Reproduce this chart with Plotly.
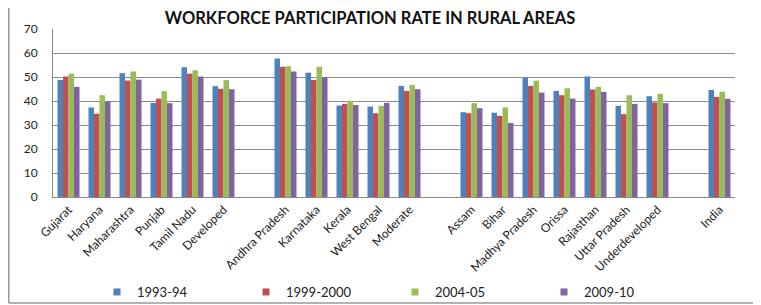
import plotly.graph_objects as go

categories = ["Gujarat", "Haryana", "Maharashtra", "Punjab", "Tamil Nadu", "Developed", " ",
              "Andhra Pradesh", "Karnataka", "Kerala", "West Bengal", "Moderate", "  ",
              "Assam", "Bihar", "Madhya Pradesh", "Orissa", "Rajasthan", "Uttar Pradesh",
              "Underdeveloped", "   ", "India"]

y1993 = [48.8, 37.3, 51.6, 39.2, 54.1, 46.2, None, 57.7, 51.8, 38.1, 37.7, 46.3, None,
         35.3, 35.1, 49.6, 44.2, 50.2, 38.0, 42.0, None, 44.6]
y1999 = [50.2, 34.7, 48.5, 41.0, 51.4, 45.1, None, 54.3, 48.8, 38.8, 34.9, 44.2, None,
         34.9, 33.8, 46.3, 42.4, 44.8, 34.5, 39.4, None, 41.7]
y2004 = [51.4, 42.4, 52.3, 44.1, 52.8, 48.7, None, 54.5, 54.3, 40.1, 38.0, 46.7, None,
         39.1, 37.3, 48.5, 45.3, 45.9, 42.4, 43.0, None, 43.9]
y2009 = [45.9, 39.8, 48.9, 39.1, 50.2, 44.9, None, 52.3, 49.9, 38.3, 39.2, 44.9, None,
         37.0, 30.8, 43.5, 41.0, 43.8, 38.8, 39.1, None, 40.9]

series = [("1993-94", y1993, "#4F81BD"), ("1999-2000", y1999, "#C0504D"),
          ("2004-05", y2004, "#9BBB59"), ("2009-10", y2009, "#8064A2")]

fig = go.Figure()
for name, vals, col in series:
    fig.add_trace(go.Bar(x=categories, y=vals, name=name, marker_color=col,
                         marker_line_width=0, showlegend=False))
# legend entries with small square keys
for name, vals, col in series:
    fig.add_trace(go.Scatter(x=[None], y=[None], mode="markers", name=name,
                             marker=dict(symbol="square", size=7, color=col),
                             showlegend=True))

# the page body has an 8px default margin, so the figure is sized to fit the window
W, H, OFF = 753, 297, 8
PL, PR, PT, PB = 53 - OFF, 735 - OFF, 29 - OFF, 197 - OFF
PW, PH = PR - PL, PB - PT

font_family = "Lato, 'Open Sans', sans-serif"
fig.update_layout(
    width=W, height=H,
    margin=dict(l=PL, r=W - PR, t=PT, b=H - PB, autoexpand=False),
    paper_bgcolor="white", plot_bgcolor="white",
    barmode="group", bargap=0.29, bargroupgap=0,
    font=dict(family=font_family, size=12, color="#222"),
    title=dict(text="<b>WORKFORCE PARTICIPATION RATE IN RURAL AREAS</b>",
               x=(370 - OFF - PL) / PW, xanchor="center", xref="paper",
               y=1 - (18.5 - OFF) / H, yanchor="middle", yref="container",
               font=dict(size=16.5, color="#111", family=font_family)),
    showlegend=True,
    legend=dict(orientation="h", x=(89 - PL) / PW, xanchor="left",
                y=(PB - (292 - OFF)) / PH, yanchor="middle",
                font=dict(size=13, color="#222"), entrywidth=104, itemwidth=30,
                bgcolor="rgba(0,0,0,0)", traceorder="normal"),
    xaxis=dict(type="category", tickangle=-45, showgrid=False, showline=True,
               linecolor="#888", linewidth=1, tickfont=dict(size=12, color="#222"),
               ticks="", fixedrange=True, automargin=False),
    yaxis=dict(range=[0, 70], dtick=10, showgrid=True, gridcolor="#8c8c8c", gridwidth=1,
               showline=True, linecolor="#888", linewidth=1, zeroline=False,
               tickfont=dict(size=12, color="#222"), ticklabelstandoff=12,
               fixedrange=True, automargin=False),
    shapes=[
        dict(type="line", xref="paper", yref="paper",
             x0=(0.75 - PL) / PW, x1=(0.75 - PL) / PW,
             y0=(PB - (303 - OFF)) / PH, y1=(PB + 5) / PH,
             line=dict(color="#999", width=1.5), layer="below"),
        dict(type="line", xref="paper", yref="paper",
             x0=(0.75 - PL) / PW, x1=(W + 5 - PL) / PW,
             y0=(PB - (303 - OFF)) / PH, y1=(PB - (303 - OFF)) / PH,
             line=dict(color="#999", width=1.5), layer="below"),
    ],
)

fig.write_html("out.html")
